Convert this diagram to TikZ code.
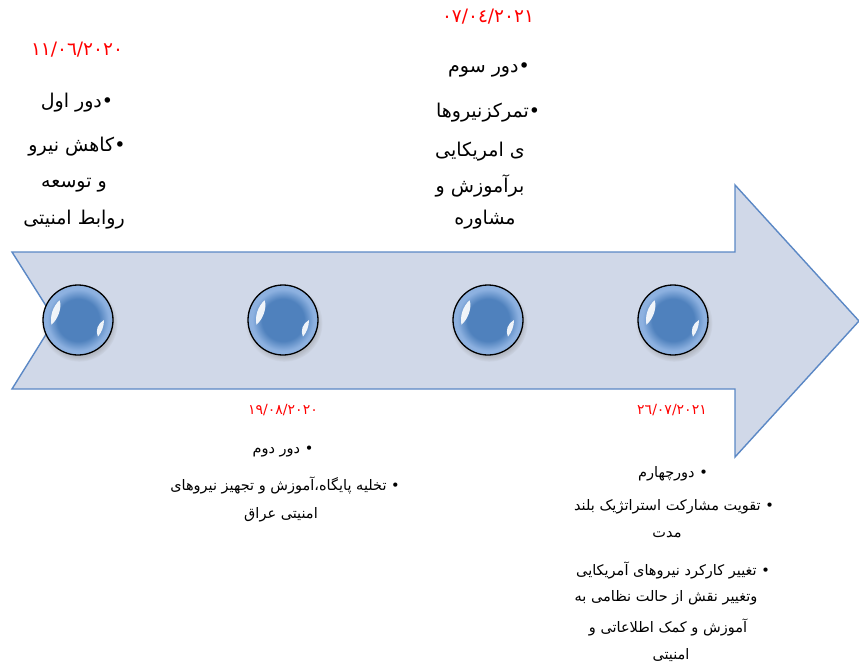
\documentclass[tikz,border=0pt]{standalone}
\usepackage{fontspec}
\usetikzlibrary{shadows}
\TeXXeTstate=1
\newfontfamily\arabicfont[Script=Arabic]{DejaVu Sans}
\newcommand{\rtltxt}[1]{\beginR #1\endR}
\definecolor{arrowfill}{HTML}{D0D8E8}
\definecolor{arrowline}{HTML}{5B88C5}
\definecolor{ballmid}{HTML}{4F81BD}
\definecolor{balledge}{HTML}{8DB1E0}
\definecolor{datered}{HTML}{FF0000}
\pgfdeclareradialshading{glassball}{\pgfpoint{0bp}{0bp}}{color(0bp)=(ballmid); color(15bp)=(ballmid); color(22bp)=(balledge); color(25bp)=(balledge); color(50bp)=(balledge)}
\tikzset{
  arrowshape/.style={fill=arrowfill, draw=arrowline, line width=1.4pt, line join=miter},
  ball/.style={circle, minimum size=70pt, inner sep=0pt, shading=glassball, draw=black, line width=1.3pt,
    circular drop shadow={shadow xshift=1pt, shadow yshift=-3pt, opacity=0.35}},
  hilite/.style={fill=white, draw=none, opacity=0.9},
  toptxt/.style={font=\arabicfont\fontsize{19}{22}\selectfont, inner sep=0pt},
  bottxt/.style={font=\arabicfont\fontsize{14.5}{17}\selectfont, inner sep=0pt},
  topdate/.style={font=\arabicfont\fontsize{18.5}{21}\selectfont, text=datered, inner sep=0pt},
  botdate/.style={font=\arabicfont\fontsize{14}{16}\selectfont, text=datered, inner sep=0pt},
}
\newcommand{\ballhl}[1]{%
  \fill[hilite] ([shift={(170:27)}]#1.center) arc[start angle=170, end angle=227, radius=27]
     .. controls ([shift={(218:20)}]#1.center) and ([shift={(182:20)}]#1.center) .. ([shift={(170:27)}]#1.center) -- cycle;
  \fill[hilite] ([shift={(0:26)}]#1.center) arc[start angle=0, end angle=40, radius=26]
     .. controls ([shift={(31:20)}]#1.center) and ([shift={(10:20)}]#1.center) .. ([shift={(0:26)}]#1.center) -- cycle;
}
\begin{document}
\begin{tikzpicture}[x=1pt,y=-1pt]
\useasboundingbox (0,0) rectangle (859,664);
% arrow
\draw[arrowshape] (12,252) -- (735,252) -- (735,185) -- (859,321) -- (735,457) -- (735,389) -- (12,389) -- (55,320) -- cycle;
% balls
\node[ball] (b1) at (78,320) {};
\node[ball] (b2) at (283,320) {};
\node[ball] (b3) at (488,320) {};
\node[ball] (b4) at (673,320) {};
\ballhl{b1}\ballhl{b2}\ballhl{b3}\ballhl{b4}
% first block (top left)
\node[topdate] (d1) at (77,50) {١١/٠٦/٢٠٢٠};
\node[toptxt] (t1a) at (77,103) {\rtltxt{•دور اول}};
\node[toptxt] (t1b) at (77,147) {\rtltxt{•کاهش نیرو}};
\node[toptxt] (t1c) at (74,185) {\rtltxt{و توسعه}};
\node[toptxt] (t1d) at (74,220) {\rtltxt{روابط امنیتی}};
% third block (top middle)
\node[topdate] (d3) at (488,17) {٠٧/٠٤/٢٠٢١};
\node[toptxt] (t3a) at (489,70) {\rtltxt{•دور سوم}};
\node[toptxt] (t3b) at (488,113) {\rtltxt{•تمرکزنیروها}};
\node[toptxt] (t3c) at (480,152) {\rtltxt{ی امریکایی}};
\node[toptxt] (t3d) at (480,186) {\rtltxt{برآموزش و}};
\node[toptxt] (t3e) at (485,220) {\rtltxt{مشاوره}};
% second block (bottom)
\node[botdate] (d2) at (283,410) {١٩/٠٨/٢٠٢٠};
\node[bottxt] (t2a) at (283,452) {\rtltxt{• دور دوم}};
\node[bottxt] (t2b) at (285,485) {\rtltxt{• تخلیه پایگاه،آموزش و تجهیز نیروهای}};
\node[bottxt] (t2c) at (281,515) {\rtltxt{امنیتی عراق}};
% fourth block (bottom right)
\node[botdate] (d4) at (672,410) {٢٦/٠٧/٢٠٢١};
\node[bottxt] (t4a) at (673,474) {\rtltxt{• دورچهارم}};
\node[bottxt] (t4b) at (674,507) {\rtltxt{• تقویت مشارکت استراتژیک بلند}};
\node[bottxt] (t4c) at (667,535) {\rtltxt{مدت}};
\node[bottxt] (t4d) at (673,570) {\rtltxt{• تغییر کارکرد نیروهای آمریکایی}};
\node[bottxt] (t4e) at (666,598) {\rtltxt{وتغییر نقش از حالت نظامی به}};
\node[bottxt] (t4f) at (668,627) {\rtltxt{آموزش و کمک اطلاعاتی و}};
\node[bottxt] (t4g) at (671,655) {\rtltxt{امنیتی}};
\end{tikzpicture}
\end{document}
